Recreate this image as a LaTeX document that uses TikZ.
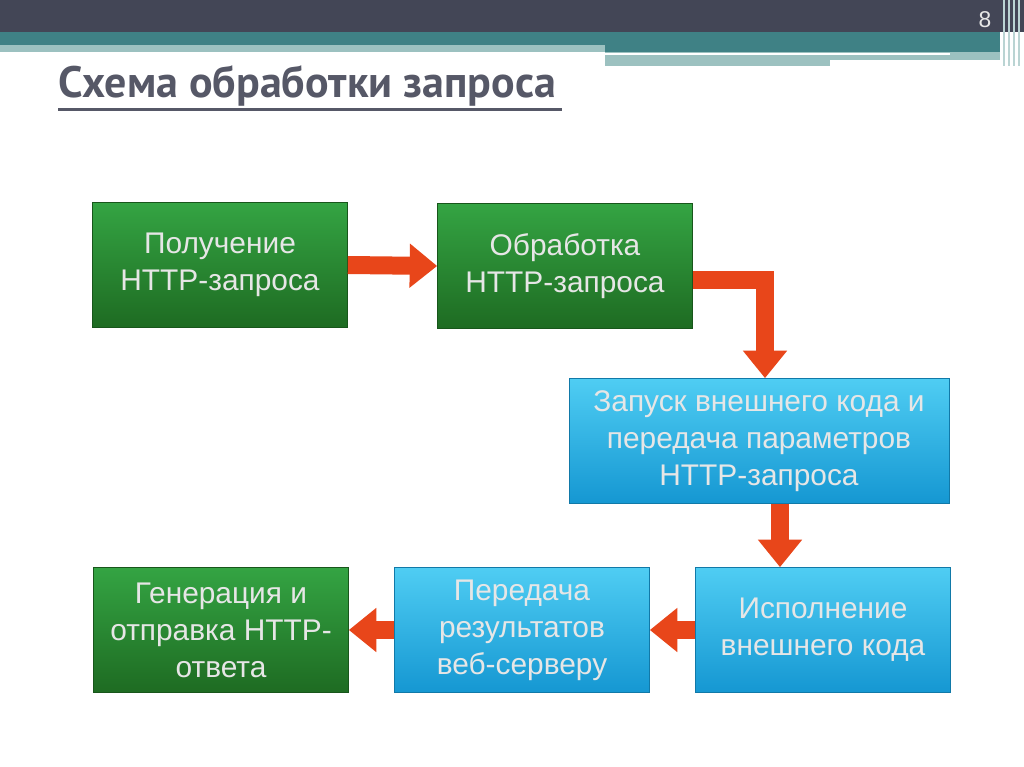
\documentclass[tikz,border=0pt]{standalone}
\usepackage{fontspec}
\setmainfont{Liberation Sans}
\newfontfamily\titlefont{PT Sans}
\usetikzlibrary{arrows.meta}
\definecolor{barDark}{HTML}{434656}
\definecolor{barTeal}{HTML}{3F8185}
\definecolor{barLight}{HTML}{9CC1C0}
\definecolor{greenTop}{HTML}{34A443}
\definecolor{greenBot}{HTML}{1E6B22}
\definecolor{blueTop}{HTML}{4FCDF3}
\definecolor{blueBot}{HTML}{1597D2}
\definecolor{arrowRed}{HTML}{E8461A}
\definecolor{textGray}{HTML}{E6E6E6}
\tikzset{
	stagebox/.style={
			draw=#1Bot!80!black, minimum width=5.1cm, minimum height=2.5cm,
			top color=#1Top, bottom color=#1Bot, align=center,
			text=textGray, font=\fontsize{17}{21}\selectfont
		},
	flow/.style={
			draw=arrowRed, line width=0.36cm,
			-{Triangle[width=0.85cm, length=0.55cm]}
		}
}
\begin{document}
\begin{tikzpicture}[x=0.02cm, y=-0.02cm]
		\useasboundingbox (0, 0) rectangle (1024, 767);
		\fill[white] (0, 0) rectangle (1024, 767);

		% header bars
		\fill[barDark]	(0, 0) rectangle (1024, 32);
		\fill[barTeal]	(0, 32) rectangle (1000, 45);
		\fill[barLight]	(0, 45) rectangle (605, 52);
		\fill[barTeal]	(605, 45) rectangle (1000, 52);
		\fill[barLight]	(605, 52) rectangle (1000, 60);
		\fill[white]	(605, 53) rectangle (950, 55);
		\fill[barLight]	(605, 60) rectangle (830, 66);
		\foreach \x in {1003, 1008, 1013, 1018} {
			\fill[barLight!70]	(\x, 0) rectangle (\x+2, 66);
		}
		\node[text=textGray, font=\fontsize{13}{15}\selectfont] (page) at (985, 20) {8};

		\node[anchor=west, text=barDark!90, font=\titlefont\bfseries\fontsize{25}{29}\selectfont] (title) at (52, 86) {Схема обработки запроса};
		\draw[barDark!90, line width=1.3pt] (title.south west) ++(6, -3) coordinate (ulA) -- (ulA -| title.south east);

		% stages
		\node[stagebox=green] (recv) at (220, 265) {Получение\\HTTP-запроса};
		\node[stagebox=green] (proc) at (565, 266) {Обработка\\HTTP-запроса};
		\node[stagebox=blue, minimum width=7.6cm] (launch) at (759, 441) {Запуск внешнего кода и\\передача параметров\\HTTP-запроса};
		\node[stagebox=blue] (exec) at (823, 630) {Исполнение\\внешнего кода};
		\node[stagebox=blue] (pass) at (522, 630) {Передача\\результатов\\веб-серверу};
		\node[stagebox=green] (gen) at (221, 630) {Генерация и\\отправка HTTP-\\ответа};

		% arrows
		\coordinate (bend) at (765, 280);
		\coordinate (downA) at (780, 0);
		\draw[flow]	(recv.east) to (proc.west);
		\draw[flow]	(proc.east |- bend) -- (bend) to (launch.north -| bend);
		\draw[flow]	(launch.south -| downA) to (exec.north -| downA);
		\draw[flow]	(exec.west) to (pass.east);
		\draw[flow]	(pass.west) to (gen.east);
	\end{tikzpicture}
\end{document}
